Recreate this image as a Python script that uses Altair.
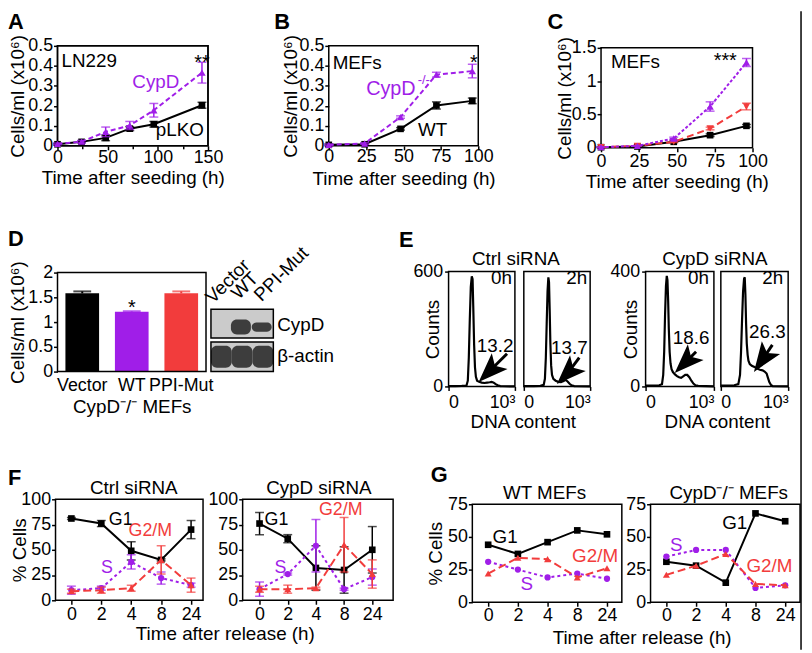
import altair as alt
import pandas as pd

# ---------------- values ----------------
a_hours = [0, 24, 48, 72, 96, 144]
a_plko = [0.008, 0.020, 0.040, 0.086, 0.108, 0.203]
a_plko_sem = [0.004, 0.004, 0.014, 0.010, 0.014, 0.015]
a_cypd = [0.010, 0.021, 0.070, 0.102, 0.178, 0.366]
a_cypd_sem = [0.004, 0.006, 0.024, 0.020, 0.034, 0.052]
a_xticks = [0, 50, 100, 150]
a_xminor = [25, 75, 125]
a_yticks = [0, 0.1, 0.2, 0.3, 0.4, 0.5]

b_hours = [0, 24, 48, 72, 96]
b_wt = [0.005, 0.008, 0.085, 0.202, 0.225]
b_wt_sem = [0.004, 0.004, 0.006, 0.018, 0.014]
b_ko = [0.005, 0.012, 0.144, 0.356, 0.374]
b_ko_sem = [0.004, 0.004, 0.006, 0.012, 0.034]
bc_xticks = [0, 25, 50, 75, 100]

c_hours = [0, 24, 48, 72, 96]
c_vector = [0.010, 0.020, 0.090, 0.190, 0.330]
c_vector_sem = [0.005, 0.005, 0.010, 0.020, 0.020]
c_wt = [0.010, 0.030, 0.140, 0.620, 1.280]
c_wt_sem = [0.005, 0.005, 0.020, 0.070, 0.060]
c_ppi = [0.010, 0.030, 0.090, 0.290, 0.620]
c_ppi_sem = [0.005, 0.005, 0.010, 0.020, 0.050]
c_yticks = [0, 0.5, 1, 1.5]

d_groups = ["Vector", "WT", "PPI-Mut"]
d_cells = [1.58, 1.21, 1.58]
d_sem = [0.04, 0.01, 0.04]
d_yticks = [0, 0.5, 1, 1.5, 2]

blot_lanes = ["Vector", "WT", "PPI-Mut"]
blot_cypd = [0.0, 1.0, 0.62]
blot_actin = [1.0, 1.0, 1.0]

e_groups = ["Ctrl siRNA", "CypD siRNA"]
e_times = ["0h", "2h", "0h", "2h"]
e_g2m = ["13.2", "13.7", "18.6", "26.3"]
e_ymax = [600, 600, 400, 400]
e_xtick_labels = ["0", "10³"]
e1_dna = [0, 100, 200, 270, 290, 305, 320, 335, 350, 362, 372, 385, 398, 412, 430, 460, 500, 540, 580, 620, 650, 680, 710, 740, 780, 820, 1000]
e1_counts = [2, 2, 3, 5, 30, 150, 350, 520, 575, 560, 420, 220, 100, 50, 30, 24, 20, 18, 20, 22, 24, 20, 12, 6, 2, 1, 0]
e2_dna = [0, 150, 250, 300, 318, 332, 345, 358, 370, 380, 390, 400, 412, 425, 445, 480, 520, 560, 600, 630, 660, 690, 720, 760, 800, 1000]
e2_counts = [2, 2, 3, 8, 40, 150, 330, 500, 570, 545, 400, 230, 110, 60, 40, 30, 24, 22, 28, 34, 26, 14, 6, 2, 1, 0]
e3_dna = [0, 100, 200, 240, 258, 272, 285, 298, 310, 320, 330, 340, 352, 365, 380, 400, 430, 460, 490, 520, 550, 580, 610, 640, 670, 700, 730, 770, 1000]
e3_counts = [3, 3, 4, 8, 40, 120, 250, 350, 385, 370, 300, 200, 120, 80, 60, 50, 42, 36, 32, 30, 35, 40, 40, 32, 20, 10, 4, 2, 0]
e4_dna = [0, 100, 200, 260, 285, 300, 315, 330, 345, 355, 365, 375, 385, 398, 410, 430, 460, 500, 540, 580, 620, 650, 680, 700, 720, 745, 770, 1000]
e4_counts = [3, 3, 4, 8, 40, 120, 230, 330, 375, 380, 320, 220, 150, 110, 90, 78, 72, 68, 62, 58, 56, 52, 45, 30, 15, 5, 1, 0]

release_ticks = ["0", "2", "4", "8", "24"]
f_ctrl_g1 = [81, 76, 49, 40, 70]
f_ctrl_g1_sem = [1, 3, 9, 1, 9]
f_ctrl_s = [10, 12, 38, 22, 15]
f_ctrl_s_sem = [4, 2, 7, 6, 2]
f_ctrl_g2m = [9, 10, 12, 40, 15]
f_ctrl_g2m_sem = [2, 3, 3, 14, 7]
f_cypd_g1 = [76, 61, 32, 30, 50]
f_cypd_g1_sem = [11, 4, 22, 23, 23]
f_cypd_s = [11, 26, 54, 11, 23]
f_cypd_s_sem = [7, 1, 26, 1, 8]
f_cypd_g2m = [11, 11, 12, 55, 26]
f_cypd_g2m_sem = [3, 4, 1, 27, 14]
f_yticks = [0, 25, 50, 75, 100]

g_wt_g1 = [44, 37, 46, 55, 52]
g_wt_s = [31, 25, 19, 22, 18]
g_wt_g2m = [22, 34, 33, 19, 26]
g_ko_g1 = [31, 28, 15, 68, 62]
g_ko_s = [35, 40, 40, 11, 13]
g_ko_g2m = [21, 28, 37, 14, 13]
g_yticks = [0, 25, 50, 75]

# ---------------- layout & style ----------------
FONT = "Liberation Sans"
W, H = 804, 645
M = 8
BLACK, PURPLE, RED = "#000000", "#a01ee8", "#f23c3c"
ARROW = "M0,-1L0.75,1L0,0.55L-0.75,1Z"
YTITLE = "Cells/ml (x10⁶)"

BOX = {
    "A": (58, 43, 210, 144), "B": (332, 43, 483, 144), "C": (607, 45, 760, 146),
    "D": (58, 272, 208, 372), "BLOT": (213, 309, 276, 372),
    "E1": (453, 271, 520, 387), "E2": (529, 271, 596, 387),
    "E3": (652, 271, 721, 387), "E4": (728, 271, 796, 387),
    "F1": (56, 501, 205, 603), "F2": (245, 501, 397, 603),
    "G1": (477, 506, 628, 605), "G2": (657, 506, 808, 605),
}


def cx(p):
    return p - M


def cy(p):
    return p - M


def lin(dom, r0, r1):
    return alt.Scale(domain=list(dom), range=[r0, r1], nice=False, zero=False)


class Panel:
    def __init__(self, key, xdom, ydom):
        self.box = BOX[key]
        x0, y0, x1, y1 = self.box
        self.xdom, self.ydom = xdom, ydom
        self.sx = lin(xdom, cx(x0), cx(x1))
        self.sy = lin(ydom, cy(y1), cy(y0))


def x_axis(p, **kw):
    base = dict(orient="bottom", offset=cy(p.box[3]) - H, grid=False, domain=False,
                tickSize=4, labelOverlap=False, labelFlush=False, titleBaseline="middle")
    base.update(kw)
    return alt.Axis(**base)


def y_axis(p, **kw):
    base = dict(orient="left", offset=-cx(p.box[0]), grid=False, domain=False,
                tickSize=4, labelOverlap=False, labelPadding=1, titleBaseline="middle")
    base.update(kw)
    return alt.Axis(**base)


def frame(p, xaxis=None, yaxis=None, fill="transparent"):
    df = pd.DataFrame({"x0": [p.xdom[0]], "x1": [p.xdom[1]],
                       "y0": [p.ydom[0]], "y1": [p.ydom[1]]})
    return alt.Chart(df).mark_rect(fill=fill, stroke="black", strokeWidth=1.5).encode(
        x=alt.X("x0:Q", scale=p.sx, axis=xaxis), x2="x1:Q",
        y=alt.Y("y0:Q", scale=p.sy, axis=yaxis), y2="y1:Q")


def series(p, xs, ys, color, shape, size=50, dash=None, sem=None, width=2.0, cap=9):
    df = pd.DataFrame({"x": xs, "y": ys})
    xe = alt.X("x:Q", scale=p.sx, axis=None)
    out = []
    lk = dict(color=color, strokeWidth=width)
    if dash:
        lk["strokeDash"] = dash
    out.append(alt.Chart(df).mark_line(**lk).encode(
        x=xe, y=alt.Y("y:Q", scale=p.sy, axis=None)))
    if sem is not None:
        df["lo"] = [a - b for a, b in zip(ys, sem)]
        df["hi"] = [a + b for a, b in zip(ys, sem)]
        base = alt.Chart(df)
        out.append(base.mark_rule(color=color, strokeWidth=1.5).encode(
            x=xe, y=alt.Y("lo:Q", scale=p.sy, axis=None), y2="hi:Q"))
        for f in ("lo", "hi"):
            out.append(base.mark_tick(color=color, orient="horizontal", size=cap,
                                      thickness=1.5).encode(
                x=xe, y=alt.Y(f + ":Q", scale=p.sy, axis=None)))
    out.append(alt.Chart(df).mark_point(shape=shape, filled=True, color=color,
                                        size=size, opacity=1).encode(
        x=xe, y=alt.Y("y:Q", scale=p.sy, axis=None)))
    return out


def label(p, x, y, text, color=BLACK, size=19, align="center"):
    df = pd.DataFrame({"x": [x], "y": [y], "t": [text]})
    return alt.Chart(df).mark_text(font=FONT, fontSize=size, color=color, align=align,
                                   baseline="middle").encode(
        x=alt.X("x:Q", scale=p.sx, axis=None), y=alt.Y("y:Q", scale=p.sy, axis=None),
        text="t:N")


def ptext(px, py, text, size=19, weight="normal", align="center", angle=None,
          baseline="middle", color=BLACK):
    kw = dict(font=FONT, fontSize=size, fontWeight=weight, align=align,
              baseline=baseline, color=color)
    if angle is not None:
        kw["angle"] = angle
    return alt.Chart(pd.DataFrame({"t": [text]})).mark_text(**kw).encode(
        x=alt.value(cx(px)), y=alt.value(cy(py)), text="t:N")


layers = []

# ---------- A ----------
pA = Panel("A", [0, 150], [0, 0.5])
layers.append(frame(pA,
                    xaxis=x_axis(pA, values=a_xticks, labelPadding=-1, title="Time after seeding (h)", titleY=32),
                    yaxis=y_axis(pA, values=a_yticks, format="~g", title=YTITLE, titleX=18 - 58)))
layers.append(frame(pA, xaxis=x_axis(pA, values=a_xminor, labels=False, tickSize=3, title=None)))
layers += series(pA, a_hours, a_plko, BLACK, "square", 45, sem=a_plko_sem)
layers += series(pA, a_hours, a_cypd, PURPLE, "triangle-up", 55, dash=[5, 3], sem=a_cypd_sem)
layers += [label(pA, 4, 0.426, "LN229", align="left"),
           label(pA, 98, 0.317, "CypD", PURPLE),
           label(pA, 122, 0.079, "pLKO"),
           label(pA, 144, 0.416, "**", size=20)]

# ---------- B ----------
pB = Panel("B", [0, 100], [0, 0.5])
layers.append(frame(pB,
                    xaxis=x_axis(pB, values=bc_xticks, labelPadding=-2, title="Time after seeding (h)", titleY=33),
                    yaxis=y_axis(pB, values=a_yticks, format="~g", title=YTITLE, titleX=293 - 332)))
layers += series(pB, b_hours, b_wt, BLACK, "square", 45, sem=b_wt_sem)
layers += series(pB, b_hours, b_ko, PURPLE, "triangle-up", 55, dash=[5, 3], sem=b_ko_sem)
layers += [label(pB, 2.6, 0.416, "MEFs", align="left"),
           label(pB, 25, 0.284, "CypD", PURPLE, size=20, align="left"),
           label(pB, 59.5, 0.33, "-/-", PURPLE, size=13, align="left"),
           label(pB, 69.5, 0.079, "WT"),
           label(pB, 97, 0.415, "*", size=20)]

# ---------- C ----------
pC = Panel("C", [0, 100], [0, 1.5])
layers.append(frame(pC,
                    xaxis=x_axis(pC, values=bc_xticks, labelPadding=1, title="Time after seeding (h)", titleY=34),
                    yaxis=y_axis(pC, values=c_yticks, format="~g", title=YTITLE, titleX=570 - 607)))
layers += series(pC, c_hours, c_vector, BLACK, "square", 45, sem=c_vector_sem)
layers += series(pC, c_hours, c_ppi, RED, "triangle-down", 55, dash=[7, 4], sem=c_ppi_sem)
layers += series(pC, c_hours, c_wt, PURPLE, "triangle-up", 55, dash=[3, 2], sem=c_wt_sem)
layers += [label(pC, 6.5, 1.28, "MEFs", align="left"),
           label(pC, 82, 1.30, "***", size=20)]

# ---------- D ----------
pD = Panel("D", [0, 1], [0, 2])


def sxD():
    return alt.Scale(domain=d_groups, range=[cx(58), cx(208)], paddingInner=0.32, paddingOuter=0.16)


def colD():
    return alt.Color("g:N", scale=alt.Scale(domain=d_groups, range=[BLACK, PURPLE, RED]), legend=None)


dD = pd.DataFrame({"g": d_groups, "v": d_cells,
                   "hi": [a + b for a, b in zip(d_cells, d_sem)]})
layers += [
    alt.Chart(dD).mark_bar().encode(
        x=alt.X("g:N", scale=sxD(), sort=d_groups,
                axis=x_axis(pD, ticks=False, labelAngle=0, labelPadding=5,
                            title="CypD⁻/⁻ MEFs", titleY=35)),
        y=alt.Y("v:Q", scale=pD.sy,
                axis=y_axis(pD, values=d_yticks, format="~g", title=YTITLE, titleX=18 - 58)),
        color=colD()),
    alt.Chart(dD).mark_rule(strokeWidth=2).encode(
        x=alt.X("g:N", scale=sxD(), sort=d_groups, axis=None),
        y=alt.Y("v:Q", scale=pD.sy, axis=None), y2="hi:Q", color=colD()),
    alt.Chart(dD).mark_tick(orient="horizontal", size=18, thickness=2).encode(
        x=alt.X("g:N", scale=sxD(), sort=d_groups, axis=None),
        y=alt.Y("hi:Q", scale=pD.sy, axis=None), color=colD()),
    alt.Chart(pd.DataFrame({"g": ["WT"], "y": [1.28], "t": ["*"]})).mark_text(
        font=FONT, fontSize=20).encode(
        x=alt.X("g:N", scale=sxD(), sort=d_groups, axis=None),
        y=alt.Y("y:Q", scale=pD.sy, axis=None), text="t:N"),
    frame(pD),
]

# ---------- western blot ----------
pBl = Panel("BLOT", [0, 3], [0, 63])
boxes = pd.DataFrame({"x0": [0, 0], "x1": [3, 3], "y0": [34, 0], "y1": [63, 30]})
bands = pd.DataFrame({
    "x0": [i - 0.04 for i in range(3)] + [i for i in range(3)],
    "x1": [i + 0.92 for i in range(3)] + [i + 1 for i in range(3)],
    "y0": [45 - 7.5 * v for v in blot_cypd] + [15 - 11 * v for v in blot_actin],
    "y1": [45 + 7.5 * v for v in blot_cypd] + [15 + 11 * v for v in blot_actin],
})
bands = bands[bands["y1"] > bands["y0"]]
xb = alt.X("x0:Q", scale=pBl.sx, axis=None)
yb = alt.Y("y0:Q", scale=pBl.sy, axis=None)
layers += [
    alt.Chart(boxes).mark_rect(fill="#cbcbcb").encode(x=xb, x2="x1:Q", y=yb, y2="y1:Q"),
    alt.Chart(bands).mark_rect(fill="#3d3d3d", cornerRadius=6).encode(x=xb, x2="x1:Q", y=yb, y2="y1:Q"),
    alt.Chart(boxes).mark_rect(fill="transparent", stroke="black", strokeWidth=1.5).encode(
        x=xb, x2="x1:Q", y=yb, y2="y1:Q"),
]

# ---------- E ----------
e_dna = [e1_dna, e2_dna, e3_dna, e4_dna]
e_counts = [e1_counts, e2_counts, e3_counts, e4_counts]
e_head = [(612, 78), (657, 67), (580, 83), (618, 93)]
e_tail = [(881, 171), (836, 150), (739, 121), (765, 145)]
e_angle = [225, 225, 225, 215]
e_text = [(701, 212), (687, 202), (667, 169), (691, 190)]
e_time_pos = [(955, 0.94), (955, 0.94), (928, 0.94), (926, 0.94)]
e_title_x = [528, None, 724, None]
e_counts_x = [437, None, 637, None]
xlabel_expr = "datum.value == 0 ? '%s' : '%s'" % (e_xtick_labels[0], e_xtick_labels[1])
for i in range(4):
    p = Panel("E%d" % (i + 1), [0, 1000], [0, e_ymax[i]])
    xk = dict(values=[0, 1000], labelExpr=xlabel_expr, labelFlush=True, labelPadding=3)
    if e_title_x[i] is not None:
        xk.update(title="DNA content", titleX=cx(e_title_x[i]), titleY=35)
    else:
        xk.update(title=None)
    yax = None
    if e_counts_x[i] is not None:
        yax = y_axis(p, values=[0, e_ymax[i]], labelPadding=2, title="Counts",
                     titleX=e_counts_x[i] - p.box[0])
    layers.append(frame(p, xaxis=x_axis(p, **xk), yaxis=yax))
    layers.append(alt.Chart(pd.DataFrame({"x": e_dna[i], "y": e_counts[i]})).mark_line(
        color=BLACK, strokeWidth=2.2).encode(
        x=alt.X("x:Q", scale=p.sx, axis=None), y=alt.Y("y:Q", scale=p.sy, axis=None)))
    ar = pd.DataFrame({"x": [e_tail[i][0]], "y": [e_tail[i][1]],
                       "x2": [e_head[i][0]], "y2": [e_head[i][1]]})
    layers.append(alt.Chart(ar).mark_rule(color=BLACK, strokeWidth=3).encode(
        x=alt.X("x:Q", scale=p.sx, axis=None), y=alt.Y("y:Q", scale=p.sy, axis=None),
        x2="x2:Q", y2="y2:Q"))
    layers.append(alt.Chart(ar).mark_point(shape=ARROW, filled=True, color=BLACK, size=900,
                                           opacity=1, angle=e_angle[i]).encode(
        x=alt.X("x2:Q", scale=p.sx, axis=None), y=alt.Y("y2:Q", scale=p.sy, axis=None)))
    layers.append(label(p, e_text[i][0], e_text[i][1], e_g2m[i]))
    layers.append(label(p, e_time_pos[i][0], e_time_pos[i][1] * e_ymax[i], e_times[i], align="right"))

# ---------- F ----------
rel_expr = "[" + ",".join("'%s'" % t for t in release_ticks) + "][datum.value]"
idx = list(range(len(release_ticks)))
pF1 = Panel("F1", [-0.53, 4.4], [0, 100])
pF2 = Panel("F2", [-0.6, 4.74], [0, 100])
layers.append(frame(pF1,
                    xaxis=x_axis(pF1, values=idx, labelExpr=rel_expr, labelPadding=1,
                                 title="Time after release (h)", titleX=cx(227), titleY=34),
                    yaxis=y_axis(pF1, values=f_yticks, title="% Cells", titleX=20 - 56)))
layers += series(pF1, idx, f_ctrl_g1, BLACK, "square", 45, sem=f_ctrl_g1_sem)
layers += series(pF1, idx, f_ctrl_s, PURPLE, "circle", 40, dash=[3, 3], sem=f_ctrl_s_sem)
layers += series(pF1, idx, f_ctrl_g2m, RED, "triangle-up", 50, dash=[8, 4], sem=f_ctrl_g2m_sem)
layers += [label(pF1, 1.25, 79, "G1", align="left", size=18),
           label(pF1, 2.64, 69, "G2/M", RED, size=18),
           label(pF1, 1.19, 32, "S", PURPLE, size=18)]
layers.append(frame(pF2,
                    xaxis=x_axis(pF2, values=idx, labelExpr=rel_expr, labelPadding=1, title=None),
                    yaxis=y_axis(pF2, values=f_yticks, title=None)))
layers += series(pF2, idx, f_cypd_g1, BLACK, "square", 45, sem=f_cypd_g1_sem)
layers += series(pF2, idx, f_cypd_s, PURPLE, "circle", 40, dash=[3, 3], sem=f_cypd_s_sem)
layers += series(pF2, idx, f_cypd_g2m, RED, "triangle-up", 50, dash=[8, 4], sem=f_cypd_g2m_sem)
layers += [label(pF2, 0.18, 79, "G1", align="left", size=18),
           label(pF2, 2.88, 89, "G2/M", RED, size=18),
           label(pF2, 0.74, 32, "S", PURPLE, size=18)]

# ---------- G ----------
pG1 = Panel("G1", [-0.533, 4.5], [0, 75])
pG2 = Panel("G2", [-0.533, 4.5], [0, 75])
layers.append(frame(pG1,
                    xaxis=x_axis(pG1, values=idx, labelExpr=rel_expr, labelPadding=0,
                                 title="Time after release (h)", titleX=cx(648), titleY=36),
                    yaxis=y_axis(pG1, values=g_yticks, title="% Cells", titleX=440 - 477)))
layers += series(pG1, idx, g_wt_g1, BLACK, "square", 45)
layers += series(pG1, idx, g_wt_s, PURPLE, "circle", 40, dash=[3, 3])
layers += series(pG1, idx, g_wt_g2m, RED, "triangle-up", 50, dash=[8, 4])
layers += [label(pG1, 0.57, 50, "G1", size=19),
           label(pG1, 3.6, 35.6, "G2/M", RED, size=19),
           label(pG1, 1.3, 13.6, "S", PURPLE, size=19)]
layers.append(frame(pG2,
                    xaxis=x_axis(pG2, values=idx, labelExpr=rel_expr, labelPadding=0, title=None),
                    yaxis=y_axis(pG2, values=g_yticks, title=None)))
layers += series(pG2, idx, g_ko_g1, BLACK, "square", 45)
layers += series(pG2, idx, g_ko_s, PURPLE, "circle", 40, dash=[3, 3])
layers += series(pG2, idx, g_ko_g2m, RED, "triangle-up", 50, dash=[8, 4])
layers += [label(pG2, 2.3, 60.6, "G1", size=19),
           label(pG2, 0.33, 44, "S", PURPLE, size=19),
           label(pG2, 3.47, 28, "G2/M", RED, size=19)]

# ---------- letters, group titles, blot labels ----------
layers += [
    ptext(8, 19, "A", 22, "bold", "left"), ptext(277, 19, "B", 22, "bold", "left"),
    ptext(553, 19, "C", 22, "bold", "left"), ptext(8, 238, "D", 22, "bold", "left"),
    ptext(403, 239, "E", 22, "bold", "left"), ptext(8, 480, "F", 22, "bold", "left"),
    ptext(435, 477, "G", 22, "bold", "left"),
    ptext(521, 258, e_groups[0]), ptext(722, 258, e_groups[1]),
    ptext(135, 490, "Ctrl siRNA"), ptext(322, 490, "CypD siRNA"),
    ptext(550, 495, "WT MEFs"), ptext(736, 495, "CypD⁻/⁻ MEFs"),
    ptext(280, 325, "CypD", align="left"), ptext(280, 356, "β-actin", align="left"),
    ptext(215, 304, blot_lanes[0], 19, align="left", angle=315, baseline="alphabetic"),
    ptext(241, 300, blot_lanes[1], 19, align="left", angle=315, baseline="alphabetic"),
    ptext(264, 302, blot_lanes[2], 19, align="left", angle=315, baseline="alphabetic"),
    alt.Chart(pd.DataFrame({"a": [0]})).mark_rule(color=BLACK, strokeWidth=1.5).encode(
        x=alt.value(cx(809)), y=alt.value(0), y2=alt.value(H)),
]

chart = alt.layer(*layers).resolve_scale(
    x="independent", y="independent", color="independent"
).properties(
    width=W, height=H, padding=0, autosize=alt.AutoSizeParams(type="none")
).configure(background="white").configure_view(stroke=None).configure_axis(
    labelFont=FONT, titleFont=FONT, labelFontSize=18, titleFontSize=19,
    titleFontWeight="normal", labelColor="black", titleColor="black",
    tickColor="black", tickWidth=1.5
)

chart.save("out.html", embed_options={"renderer": "svg", "actions": False})
